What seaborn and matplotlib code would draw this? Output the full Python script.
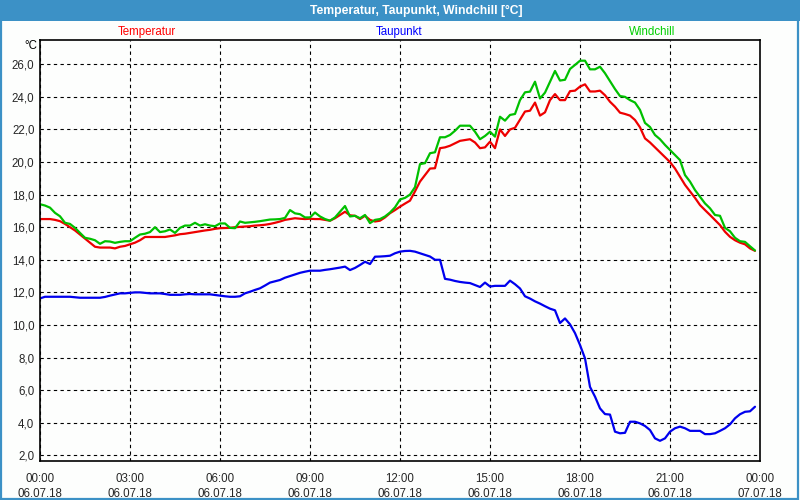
import numpy as np
import pandas as pd
import matplotlib
matplotlib.use("Agg")
import matplotlib.pyplot as plt
import matplotlib.patches as patches
import seaborn as sns

# 10-minute readings, 06.07.18 00:00 .. 23:50
hours = np.arange(144) / 6.0

temperatur = [
    16.5, 16.5, 16.5, 16.45, 16.37, 16.2, 16.0, 15.8, 15.55, 15.3,
    15.05, 14.8, 14.75, 14.75, 14.75, 14.7, 14.8, 14.85, 14.95, 15.05,
    15.2, 15.4, 15.4, 15.4, 15.4, 15.4, 15.45, 15.5, 15.57, 15.6,
    15.65, 15.7, 15.75, 15.8, 15.84, 15.9, 15.94, 15.95, 15.96, 16.0,
    16.02, 16.04, 16.06, 16.1, 16.12, 16.15, 16.2, 16.27, 16.35, 16.45,
    16.5, 16.55, 16.52, 16.5, 16.52, 16.5, 16.5, 16.45, 16.4, 16.55,
    16.75, 16.95, 16.73, 16.7, 16.5, 16.7, 16.45, 16.35, 16.4, 16.6,
    16.86, 17.05, 17.26, 17.45, 17.63, 18.2, 18.8, 19.2, 19.6, 19.62,
    20.85, 20.9, 21.0, 21.15, 21.3, 21.35, 21.4, 21.2, 20.85, 20.9,
    21.25, 20.85, 22.0, 21.6, 22.0, 22.1, 22.6, 23.1, 23.15, 23.65,
    22.85, 23.05, 23.8, 24.17, 23.8, 23.8, 24.35, 24.38, 24.63, 24.77,
    24.33, 24.33, 24.38, 24.1, 23.7, 23.4, 23.03, 22.95, 22.85, 22.58,
    22.13, 21.45, 21.2, 20.9, 20.6, 20.3, 20.0, 19.6, 19.1, 18.6,
    18.2, 17.8, 17.36, 17.05, 16.75, 16.44, 16.13, 15.72, 15.41, 15.2,
    15.05, 14.95, 14.7, 14.55,
]

taupunkt = [
    11.63, 11.73, 11.73, 11.73, 11.73, 11.73, 11.73, 11.7, 11.67, 11.67,
    11.67, 11.67, 11.67, 11.72, 11.8, 11.87, 11.94, 11.94, 11.97, 12.0,
    12.0, 11.97, 11.94, 11.94, 11.94, 11.9, 11.85, 11.85, 11.85, 11.88,
    11.9, 11.88, 11.88, 11.88, 11.88, 11.84, 11.8, 11.76, 11.73, 11.73,
    11.76, 11.94, 12.04, 12.15, 12.25, 12.42, 12.6, 12.68, 12.76, 12.9,
    13.0, 13.1, 13.2, 13.27, 13.33, 13.33, 13.33, 13.38, 13.42, 13.47,
    13.52, 13.58, 13.37, 13.5, 13.68, 13.88, 13.74, 14.19, 14.2, 14.22,
    14.25, 14.4, 14.5, 14.54, 14.55, 14.5, 14.4, 14.3, 14.2, 14.0,
    14.0, 12.83, 12.78, 12.7, 12.64, 12.6, 12.57, 12.45, 12.33, 12.6,
    12.36, 12.4, 12.4, 12.4, 12.72, 12.5, 12.24, 11.76, 11.62, 11.45,
    11.31, 11.15, 11.0, 10.9, 10.12, 10.4, 10.04, 9.5, 8.77, 7.95,
    6.2, 5.6, 4.88, 4.53, 4.5, 3.45, 3.35, 3.38, 4.06, 4.06,
    3.96, 3.8, 3.55, 3.04, 2.89, 3.04, 3.45, 3.66, 3.76, 3.66,
    3.5, 3.5, 3.5, 3.3, 3.3, 3.35, 3.5, 3.66, 3.9, 4.27,
    4.52, 4.67, 4.7, 4.98,
]

windchill = [
    17.41, 17.33, 17.2, 16.88, 16.67, 16.27, 16.2, 15.96, 15.65, 15.35,
    15.29, 15.2, 14.98, 15.14, 15.12, 15.04, 15.1, 15.14, 15.14, 15.35,
    15.55, 15.6, 15.7, 16.0, 15.7, 15.75, 15.86, 15.65, 15.96, 16.1,
    16.1, 16.27, 16.1, 16.18, 16.1, 16.06, 16.23, 16.23, 15.96, 15.94,
    16.35, 16.27, 16.3, 16.33, 16.37, 16.42, 16.47, 16.48, 16.5, 16.57,
    17.05, 16.85, 16.8, 16.6, 16.6, 16.9, 16.66, 16.5, 16.4, 16.6,
    16.95, 17.3, 16.66, 16.7, 16.55, 16.75, 16.25, 16.45, 16.5, 16.66,
    16.9, 17.22, 17.7, 17.8, 18.0, 18.46, 19.87, 19.93, 20.54, 20.6,
    21.52, 21.52, 21.66, 21.92, 22.23, 22.23, 22.23, 21.86, 21.4, 21.6,
    21.86, 21.56, 22.78, 22.54, 22.89, 22.95, 23.8, 24.28, 24.32, 24.93,
    23.9, 24.26, 24.93, 25.59, 25.0, 25.05, 25.71, 25.96, 26.22, 26.22,
    25.69, 25.69, 25.85, 25.45, 24.97, 24.48, 24.05, 24.0, 23.8, 23.65,
    23.2, 22.4, 22.15, 21.66, 21.4, 21.05, 20.74, 20.43, 20.12, 19.2,
    18.8, 18.28, 17.87, 17.46, 17.16, 16.75, 16.7, 15.96, 15.75, 15.35,
    15.14, 15.1, 14.83, 14.57,
]

xtick_labels = ["00:00\n06.07.18", "03:00\n06.07.18", "06:00\n06.07.18",
                "09:00\n06.07.18", "12:00\n06.07.18", "15:00\n06.07.18",
                "18:00\n06.07.18", "21:00\n06.07.18", "00:00\n07.07.18"]
ytick_vals = [2, 4, 6, 8, 10, 12, 14, 16, 18, 20, 22, 24, 26]

sns.set_style("white")
plt.rcParams['font.family'] = ['Liberation Sans', 'DejaVu Sans']

df = pd.DataFrame({"t": hours, "Temperatur": temperatur,
                   "Taupunkt": taupunkt, "Windchill": windchill})

fig = plt.figure(figsize=(8, 5), dpi=100)
fig.patch.set_facecolor("#fdfefd")
ax = fig.add_axes([0.05, 0.078, 0.90, 0.842])
ax.set_facecolor("#fdfefd")

sns.lineplot(data=df, x="t", y="Taupunkt", ax=ax, color="#0000ee", lw=1.6)
sns.lineplot(data=df, x="t", y="Temperatur", ax=ax, color="#ee0000", lw=1.6)
sns.lineplot(data=df, x="t", y="Windchill", ax=ax, color="#00c000", lw=1.6)

ax.set_xlim(0, 24)
ax.set_ylim(1.65, 27.49)
ax.set_xticks(np.arange(0, 25, 3))
ax.set_xticklabels(xtick_labels, linespacing=1.25)
ax.set_xticks(np.arange(0, 25, 1), minor=True)
ax.set_yticks(ytick_vals)
ax.set_yticklabels([f"{v:.1f}".replace(".", ",") for v in ytick_vals])
ax.set_xlabel("")
ax.set_ylabel("")
ax.grid(True, which="major", color="black", ls=(0, (3, 3)), lw=0.8)
ax.tick_params(axis="x", which="both", direction="out", length=3, width=1,
               color="black", labelsize=8.3, pad=6)
ax.tick_params(axis="y", length=0, labelsize=8.3, pad=4)
for s in ax.spines.values():
    s.set_color("black")
    s.set_linewidth(1.2)

# title bar and outer frame
fig.patches.append(patches.Rectangle((0, 0.958), 1, 0.042, transform=fig.transFigure,
                                     facecolor="#3c91c6", edgecolor="none", zorder=0))
fig.patches.append(patches.Rectangle((0.001, 0.002), 0.997, 0.996, transform=fig.transFigure,
                                     facecolor="none", edgecolor="#3c91c6", lw=1.6))
fig.text(0.52, 0.979, "Temperatur, Taupunkt, Windchill [°C]", color="white",
         fontsize=8.7, fontweight="bold", ha="center", va="center")

fig.text(147 / 800, 1 - 32 / 500, "Temperatur", color="#ff0000", fontsize=8.3, ha="center", va="center")
fig.text(399 / 800, 1 - 32 / 500, "Taupunkt", color="#0000ff", fontsize=8.3, ha="center", va="center")
fig.text(652 / 800, 1 - 32 / 500, "Windchill", color="#00d000", fontsize=8.3, ha="center", va="center")
fig.text(37 / 800, 1 - 46 / 500, "°C", color="black", fontsize=8.3, ha="right", va="center")

fig.savefig("out.png", dpi=100)
